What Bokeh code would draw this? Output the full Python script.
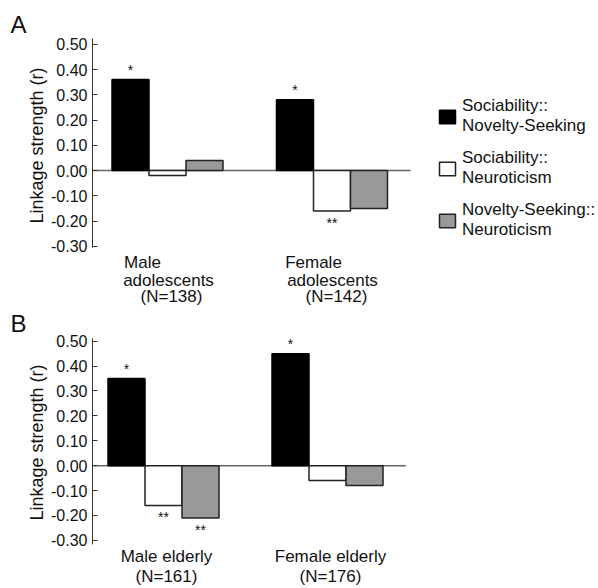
from bokeh.plotting import figure
from bokeh.layouts import column
from bokeh.models import (Range1d, Legend, LegendItem, FixedTicker, LinearAxis,
                          PrintfTickFormatter, ColumnDataSource)
from bokeh.embed import file_html
from bokeh.resources import INLINE
from bokeh.core.properties import value

# ---------------- data ----------------
series_names = ["Sociability::\nNovelty-Seeking",
                "Sociability::\nNeuroticism",
                "Novelty-Seeking::\nNeuroticism"]

groups_A = ["Male\nadolescents", "Female\nadolescents"]
n_A = ["(N=138)", "(N=142)"]
soc_nov_A = [0.36, 0.28]
soc_neu_A = [-0.02, -0.16]
nov_neu_A = [0.04, -0.15]
stars_soc_nov_A = ["*", "*"]
stars_soc_neu_A = ["", "**"]
stars_nov_neu_A = ["", ""]

groups_B = ["Male elderly", "Female elderly"]
n_B = ["(N=161)", "(N=176)"]
soc_nov_B = [0.35, 0.45]
soc_neu_B = [-0.16, -0.06]
nov_neu_B = [-0.21, -0.08]
stars_soc_nov_B = ["*", "*"]
stars_soc_neu_B = ["**", ""]
stars_nov_neu_B = ["**", ""]

y_ticks = [0.5, 0.4, 0.3, 0.2, 0.1, 0.0, -0.1, -0.2, -0.3]
y_label = "Linkage strength (r)"

# ---------------- styles / layout ----------------
FONT = "Liberation Sans"
FILLS = ["#000000", "#ffffff", "#999999"]
EDGES = ["#000000", "#222222", "#222222"]
PPU = 252.5            # pixels per unit of r
W = 598
LEFT = 92
BAR_W = 37
# horizontal offsets (px) of the panel-A label lines from their group centre
A_LINE1_DX = [-24.5, -18.5]
A_LINE2_DX = 0.5
A_N_DX = 4


def cat_axis(ticks, labels, standoff, line_height=1.0):
    ax = LinearAxis(ticker=FixedTicker(ticks=ticks),
                    major_label_overrides={t: s for t, s in zip(ticks, labels)})
    ax.axis_line_color = None
    ax.major_tick_line_color = None
    ax.minor_tick_line_color = None
    ax.major_tick_in = 0
    ax.major_tick_out = 0
    ax.major_label_standoff = standoff
    ax.major_label_text_font = FONT
    ax.major_label_text_font_size = "17px"
    ax.major_label_text_color = "#111111"
    ax.major_label_text_line_height = line_height
    return ax


def make_panel(letter, groups, series, stars, first_center, gap,
               height, top_border, zero_from_top, frame_h, axis_above_zero,
               axis_below_zero, title_align, title_standoff, with_legend):
    y_end = zero_from_top / PPU
    y_start = -(frame_h - zero_from_top) / PPU
    p = figure(width=W, height=height, output_backend="svg", toolbar_location=None,
               x_range=Range1d(0, W - LEFT), y_range=Range1d(y_start, y_end),
               x_axis_location=None,
               min_border_left=LEFT, min_border_right=0,
               min_border_top=top_border,
               min_border_bottom=height - top_border - frame_h)
    p.outline_line_color = None
    p.xgrid.visible = False
    p.ygrid.visible = False
    p.background_fill_color = "white"
    p.border_fill_color = "white"

    p.title.text = letter
    p.title.text_font = FONT
    p.title.text_font_size = "24px"
    p.title.text_font_style = "normal"
    p.title.text_color = "#111111"
    p.title.align = "left"
    p.title.vertical_align = title_align
    p.title.offset = -82
    p.title.standoff = title_standoff

    ax = p.yaxis[0]
    ax.bounds = (-axis_below_zero / PPU, min(axis_above_zero, zero_from_top) / PPU)
    ax.ticker = FixedTicker(ticks=y_ticks)
    ax.formatter = PrintfTickFormatter(format="%.2f")
    ax.major_tick_in = 5
    ax.major_tick_out = 0
    ax.minor_tick_line_color = None
    ax.axis_line_color = "#333333"
    ax.major_tick_line_color = "#333333"
    ax.major_label_text_font = FONT
    ax.major_label_text_font_size = "16px"
    ax.major_label_text_color = "#111111"
    ax.major_label_standoff = 5
    ax.axis_label = y_label
    ax.axis_label_text_font = FONT
    ax.axis_label_text_font_size = "18px"
    ax.axis_label_text_font_style = "normal"
    ax.axis_label_text_color = "#111111"
    ax.axis_label_standoff = 1

    centers = [first_center + i * gap for i in range(len(groups))]
    offsets = [-BAR_W, 0, BAR_W]

    # zero line
    x_end = centers[-1] + BAR_W * 1.5 + 23
    p.segment(x0=[0], x1=[x_end], y0=[0], y1=[0], line_color="#666666", line_width=1.5)

    renderers = []
    for k, vals in enumerate(series):
        xs = [c + offsets[k] for c in centers]
        src = ColumnDataSource(dict(x=xs, top=vals))
        r = p.vbar(x="x", top="top", bottom=0, width=BAR_W, source=src,
                   fill_color=FILLS[k], line_color=EDGES[k], line_width=1.5)
        renderers.append(r)
        sy = [v + 10 / PPU if v > 0 else v - 12 / PPU for v in vals]
        ssrc = ColumnDataSource(dict(x=xs, y=sy, t=stars[k]))
        p.text(x="x", y="y", text="t", source=ssrc, text_align="center",
               text_baseline="alphabetic", text_font=value(FONT),
               text_font_size="14px", text_color="#111111")

    if with_legend:
        items = [LegendItem(label=series_names[k], renderers=[renderers[k]])
                 for k in range(3)]
        leg = Legend(items=items, location=(345, 12), orientation="vertical",
                     glyph_width=20, glyph_height=17, label_standoff=5,
                     spacing=12, padding=0, margin=0,
                     border_line_color=None, background_fill_alpha=0,
                     label_text_font=FONT, label_text_font_size="17px",
                     label_text_line_height=1.0, label_text_color="#111111")
        p.add_layout(leg, "center")
    return p, centers


# ---- panel A ----
pA, cA = make_panel("A", groups_A,
                    [soc_nov_A, soc_neu_A, nov_neu_A],
                    [stars_soc_nov_A, stars_soc_neu_A, stars_nov_neu_A],
                    first_center=75, gap=164.5, height=309, top_border=38,
                    zero_from_top=132, frame_h=214, axis_above_zero=132,
                    axis_below_zero=77,
                    title_align="bottom", title_standoff=1, with_legend=True)
line1 = [g.split("\n")[0] for g in groups_A]
line2 = [g.split("\n")[1] for g in groups_A]
pA.add_layout(cat_axis([round(c + d) for c, d in zip(cA, A_LINE1_DX)], line1, 0), "below")
pA.add_layout(cat_axis([round(c + A_LINE2_DX) for c in cA], line2, -4), "below")
pA.add_layout(cat_axis([round(c + A_N_DX) for c in cA], n_A, -6), "below")

# ---- panel B ----
pB, cB = make_panel("B", groups_B,
                    [soc_nov_B, soc_neu_B, nov_neu_B],
                    [stars_soc_nov_B, stars_soc_neu_B, stars_nov_neu_B],
                    first_center=71, gap=164, height=279, top_border=27,
                    zero_from_top=129, frame_h=211, axis_above_zero=132,
                    axis_below_zero=80,
                    title_align="top", title_standoff=0, with_legend=False)
labels_B = [g + "\n" + n for g, n in zip(groups_B, n_B)]
pB.add_layout(cat_axis([round(c + 2.5) for c in cB], labels_B, 0, 1.06), "below")

layout = column(pA, pB)
open("out.html", "w").write(file_html(layout, INLINE))
